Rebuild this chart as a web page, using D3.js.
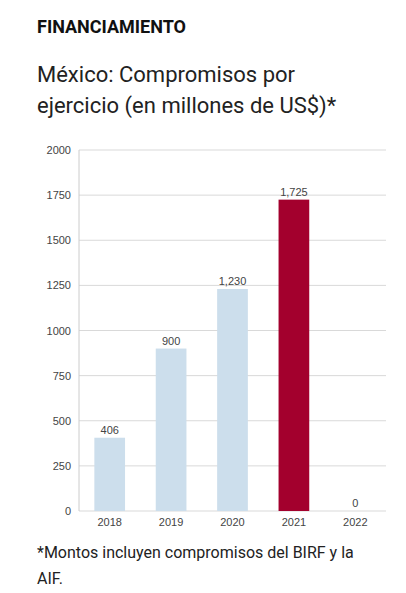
<!DOCTYPE html>
<html><head><meta charset="utf-8">
<script src="https://cdn.jsdelivr.net/npm/d3@7"></script>
<style>body{margin:0;background:#fff;font-family:"Liberation Sans",Arial,sans-serif}</style>
</head><body><svg id="c" width="406" height="593"></svg>
<script>
const years = ["2018","2019","2020","2021","2022"];
const values = [406, 900, 1230, 1725, 0];
const labels = ["406","900","1,230","1,725","0"];
const yTicks = [0,250,500,750,1000,1250,1500,1750,2000];
const svg = d3.select("#c");
svg.append("text").attr("x",37).attr("y",33).attr("font-family","Roboto, sans-serif").attr("font-weight",700).attr("font-size",18).attr("fill","#111").text("FINANCIAMIENTO");
[["México: Compromisos por",82],["ejercicio (en millones de US$)*",113]].forEach(([t,y])=>
  svg.append("text").attr("x",37).attr("y",y).attr("font-family","Roboto, sans-serif").attr("font-size",22).attr("fill","#222").text(t));
const x = d3.scaleBand().domain(years).range([79,386]).paddingInner(0.5).paddingOuter(0.25);
const y = d3.scaleLinear().domain([0,2000]).range([511,150]);
svg.append("g").selectAll("line").data(yTicks).join("line")
  .attr("x1",79).attr("x2",386).attr("y1",d=>y(d)).attr("y2",d=>y(d)).attr("stroke","#d9d9d9");
svg.append("line").attr("x1",79).attr("x2",79).attr("y1",150).attr("y2",511).attr("stroke","#ccc");
svg.append("g").selectAll("text").data(yTicks).join("text")
  .attr("x",71).attr("y",d=>y(d)+4).attr("text-anchor","end").attr("font-size",11).attr("fill","#444").text(d=>d);
svg.append("g").selectAll("rect").data(values).join("rect")
  .attr("x",(d,i)=>x(years[i])).attr("width",x.bandwidth()).attr("y",d=>y(d)).attr("height",d=>y(0)-y(d))
  .attr("fill",(d,i)=>years[i]==="2021"?"#a3002d":"#ccdeec");
svg.append("g").selectAll("text").data(values).join("text")
  .attr("x",(d,i)=>x(years[i])+x.bandwidth()/2).attr("y",d=>y(d)-4).attr("text-anchor","middle")
  .attr("font-size",11).attr("fill","#444").text((d,i)=>labels[i]);
svg.append("g").selectAll("text").data(years).join("text")
  .attr("x",d=>x(d)+x.bandwidth()/2).attr("y",526).attr("text-anchor","middle").attr("font-size",11).attr("fill","#444").text(d=>d);
[["*Montos incluyen compromisos del BIRF y la",558],["AIF.",584]].forEach(([t,yy])=>
  svg.append("text").attr("x",37).attr("y",yy).attr("font-family","Roboto, sans-serif").attr("font-size",16).attr("fill","#222").text(t));
</script></body></html>
